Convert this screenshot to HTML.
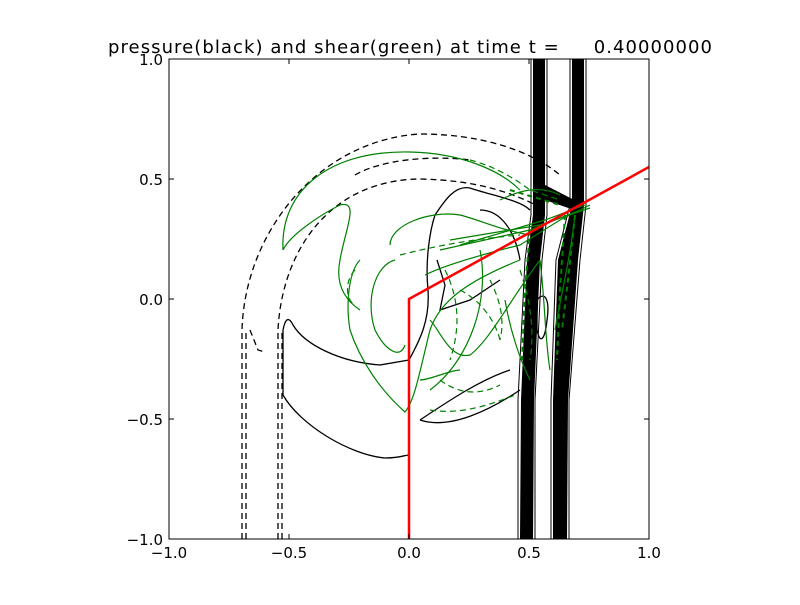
<!DOCTYPE html>
<html><head><style>
body{margin:0;background:#fff;width:800px;height:600px;overflow:hidden}
svg text{font-family:"DejaVu Sans","Liberation Sans",sans-serif;font-size:15px}
</style></head><body>
<svg width="800" height="600" viewBox="0 0 800 600" xmlns="http://www.w3.org/2000/svg">
<rect width="800" height="600" fill="#fff"/>
<text x="410" y="53" text-anchor="middle" textLength="604" style="font-size:18px;white-space:pre" xml:space="preserve">pressure(black) and shear(green) at time t =     0.40000000</text>
<defs><clipPath id="c"><rect x="169" y="59" width="480" height="480"/></clipPath></defs>
<g clip-path="url(#c)" fill="none">
<g stroke="#000" stroke-width="1.3" stroke-dasharray="6,4">
<path d="M242,539 L242,330 C245,230 320,140 420,134 C480,134 530,150 560,175"/>
<path d="M246,539 L246,330"/>
<path d="M278,539 L278,330 C282,250 330,180 420,179 C470,180 510,190 545,210"/>
<path d="M282,539 L282,330"/>
<path d="M250,330 L258,350 L265,352"/>
<path d="M355,175 C380,160 430,155 470,160"/>
</g>
<g stroke="#000" stroke-width="1.3">
<path d="M283,330 C285,320 288,315 293,325 C305,345 340,362 380,365 L409,360"/>
<path d="M283,330 L283,395 C300,425 350,455 385,458 C400,458 405,455 409,455"/>
<path d="M409,360 C420,340 430,320 428,290 C425,260 430,230 435,215 C445,200 455,185 470,188 C490,195 520,200 530,210"/>
<path d="M420,420 C450,430 490,410 520,390"/>
<path d="M420,420 C450,400 480,380 510,370"/>
<path d="M437,260 L445,285 L440,310 L470,300 L500,280"/>
<path d="M537,300 C545,290 550,300 547,320 C545,340 540,345 537,330 Z"/>
<path d="M480,210 C500,210 515,230 520,260"/>
</g>
<g fill="#000">
<polygon points="533,59 545,59 545,215 540,260 534,400 533,539 520,539 521,400 527,260 533,215"/>
<polygon points="572,59 584,59 584,205 578,260 568,400 567,539 553,539 553,400 558,260 572,205"/>
<polygon points="533,180 545,185 584,205 580,212 545,200 533,195"/>
</g>
<g stroke="#000" stroke-width="1"><path d="M531,59V215L525,260L518,400V539M547,59V215L542,260L535,400V539M570,59V205L556,260L551,400V539M586,59V205L580,260L569,400V539"/></g>
<g stroke="#008000" stroke-width="1.2">
<path d="M283,250 C280,190 330,150 410,152 C460,153 500,170 520,190"/>
<path d="M283,250 C290,235 320,215 340,205 C360,200 345,230 340,260 C335,285 345,300 360,310"/>
<path d="M390,245 C390,225 430,210 460,215 C480,220 500,230 530,235"/>
<path d="M360,260 C350,270 345,300 350,330 C360,360 380,390 405,412 C415,400 420,370 430,330 C440,300 470,280 520,260"/>
<path d="M395,260 C375,265 365,300 375,330 C385,350 400,360 405,345"/>
<path d="M430,320 C440,330 450,360 470,355 C490,340 510,300 540,260"/>
<path d="M425,275 C445,265 480,255 520,245 L560,220 L590,205"/>
<path d="M440,250 L530,230 L580,210"/>
<path d="M450,240 L540,225 L590,208"/>
<path d="M460,245 L545,220 L585,205"/>
<path d="M500,200 C520,190 540,185 560,195"/>
<path d="M505,300 C510,330 520,360 530,380"/>
<path d="M540,260 C545,300 545,340 550,370"/>
<path d="M575,215 C570,260 560,300 555,330"/>
<path d="M480,250 C490,300 470,360 430,390"/>
<path d="M420,380 C430,380 450,370 460,370"/>
</g>
<g stroke="#008000" stroke-width="2" stroke-dasharray="5,4">
<path d="M530,230 L525,290 L522,360"/>
<path d="M565,215 L560,290 L557,360"/>
<path d="M575,215 L568,280 L562,330"/>
<path d="M510,190 L560,205"/>
</g>
<g stroke="#008000" stroke-width="1.2" stroke-dasharray="6,4">
<path d="M355,270 C345,280 345,300 355,305"/>
<path d="M400,255 C420,250 460,240 520,235"/>
<path d="M460,290 C480,300 495,320 500,340"/>
<path d="M430,410 C460,415 490,405 515,395"/>
<path d="M445,270 C460,300 460,330 450,360"/>
<path d="M470,160 C490,165 510,175 530,190 L560,200"/>
<path d="M520,270 C530,300 535,330 530,360"/>
<path d="M440,380 C460,395 480,395 500,385"/>
<path d="M490,280 C500,300 505,320 500,340"/>
</g>
<path d="M409,539 L409,299 L649,167" stroke="#f00" stroke-width="2.5"/>
</g>
<rect x="169" y="59" width="480" height="480" fill="none" stroke="#000" stroke-width="1"/>
<g stroke="#000" stroke-width="1">
<path d="M169,539v-5M289,539v-5M409,539v-5M529,539v-5M649,539v-5M169,59v5M289,59v5M409,59v5M529,59v5M649,59v5"/>
<path d="M169,59h5M169,179h5M169,299h5M169,419h5M169,539h5M649,59h-5M649,179h-5M649,299h-5M649,419h-5M649,539h-5"/>
</g>
<g text-anchor="middle">
<text x="169" y="558">−1.0</text><text x="289" y="558">−0.5</text><text x="409" y="558">0.0</text><text x="529" y="558">0.5</text><text x="649" y="558">1.0</text>
</g>
<g text-anchor="end">
<text x="163" y="65">1.0</text><text x="163" y="185">0.5</text><text x="163" y="305">0.0</text><text x="163" y="425">−0.5</text><text x="163" y="545">−1.0</text>
</g>
</svg>
</body></html>
